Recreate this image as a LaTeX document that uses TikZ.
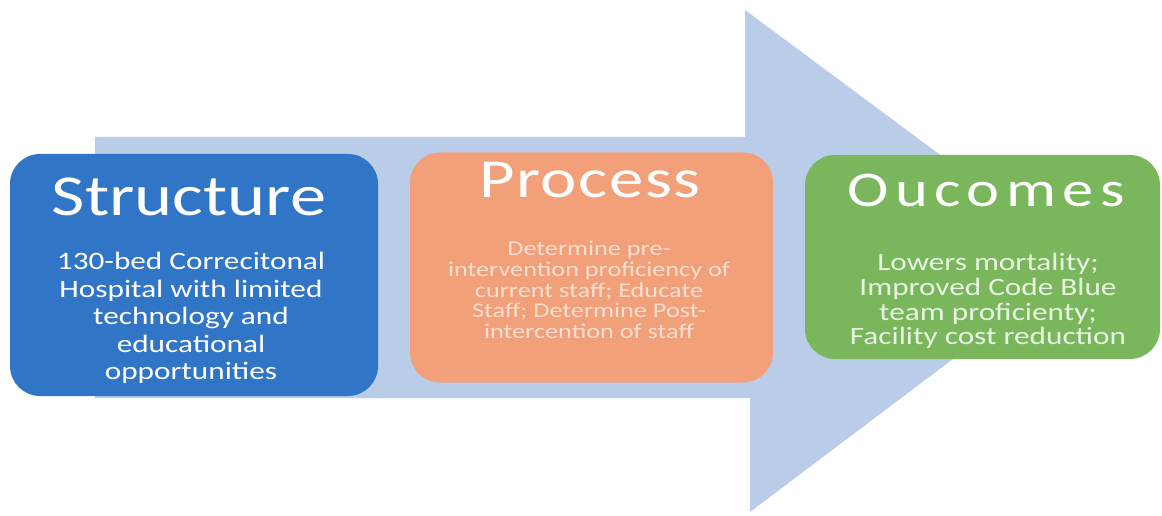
\documentclass[tikz,border=0pt]{standalone}
\usepackage{fontspec}
\setmainfont{Carlito}[FakeStretch=1.25]
\newfontfamily\processfont{Carlito}[FakeStretch=1.25, LetterSpace=3]
\newfontfamily\outcomesfont{Carlito}[FakeStretch=1.25, LetterSpace=13]
\begin{document}
\begin{tikzpicture}[x=1pt,y=-1pt,
  stagebox/.style={rounded corners=30pt, inner sep=0pt, draw=none},
  titletext/.style={text=white, anchor=base},
  bodytext/.style={align=center, anchor=center, inner sep=0pt}]
  \definecolor{arrowblue}{RGB}{185,204,232}
  \definecolor{boxblue}{RGB}{48,117,198}
  \definecolor{boxorange}{RGB}{242,160,122}
  \definecolor{boxgreen}{RGB}{122,182,92}
  \definecolor{peachtext}{RGB}{250,222,208}
  \definecolor{mintext}{RGB}{232,244,226}
  \useasboundingbox (0,0) rectangle (1162,516);
  \fill[white] (0,0) rectangle (1162,516);
  % broad block arrow behind the three stages
  \fill[arrowblue] (95,137) -- (745,137) -- (745,10) -- (1083,261)
    -- (750,512) -- (750,398) -- (95,398) -- cycle;
  % stage boxes
  \node[stagebox, fill=boxblue, minimum width=368pt, minimum height=242pt] (structure) at (194,275) {};
  \node[stagebox, fill=boxorange, minimum width=363pt, minimum height=230pt] (process) at (591.5,267.5) {};
  \node[stagebox, fill=boxgreen, minimum width=355pt, minimum height=204pt] (outcomes) at (982.5,257) {};
  % titles
  \node[titletext, font=\fontsize{58}{60}\selectfont] (structuretitle) at (189,215) {Structure};
  \node[titletext, font=\processfont\fontsize{55}{57}\selectfont] (processtitle) at (590,197) {Process};
  \node[titletext, font=\outcomesfont\fontsize{50}{52}\selectfont] (outcomestitle) at (986,206) {Oucomes};
  % descriptions
  \node[bodytext, text=white, font=\fontsize{25}{27.5}\selectfont] (structurebody) at (191,318)
    {130-bed Correcitonal\\Hospital with limited\\technology and\\educational\\opportunities};
  \node[bodytext, text=peachtext, font=\fontsize{21}{20.7}\selectfont] (processbody) at (589,290)
    {Determine pre-\\intervention proficiency of\\current staff; Educate\\Staff; Determine Post-\\intercention of staff};
  \node[bodytext, text=mintext, font=\fontsize{25}{24.8}\selectfont] (outcomesbody) at (988,301)
    {Lowers mortality;\\Improved Code Blue\\team proficienty;\\Facility cost reduction};
\end{tikzpicture}
\end{document}
